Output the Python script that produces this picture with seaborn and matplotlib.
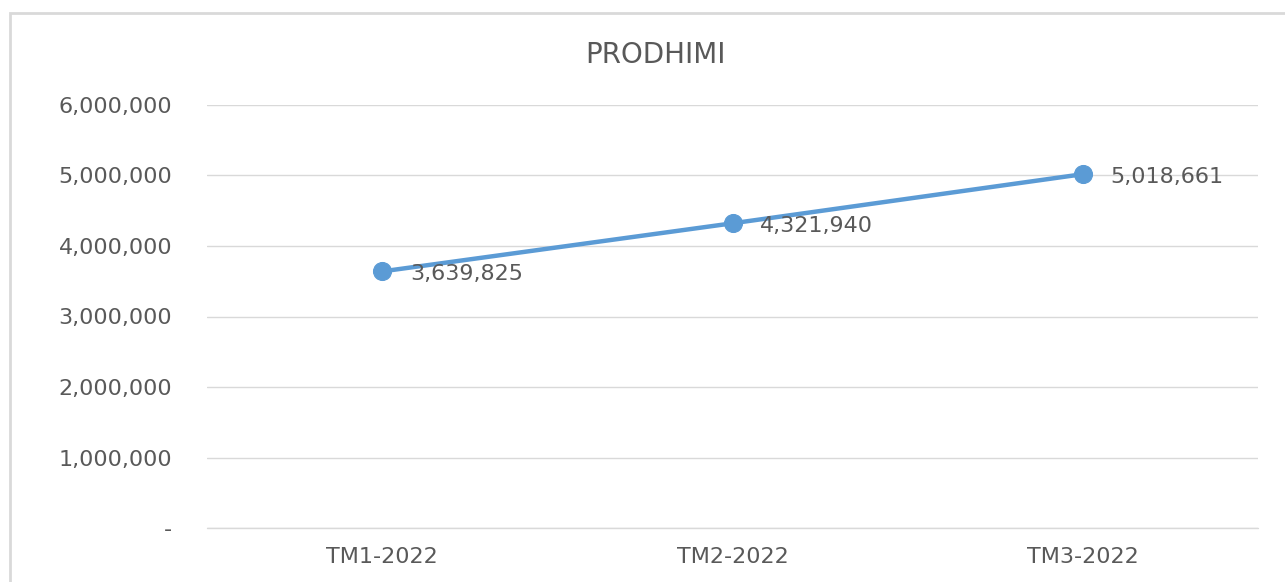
import matplotlib
matplotlib.use("Agg")
import matplotlib.pyplot as plt
import matplotlib.ticker as mticker
from matplotlib.patches import Rectangle
import pandas as pd
import seaborn as sns

# data
quarters = ["TM1-2022", "TM2-2022", "TM3-2022"]
production = [3639825, 4321940, 5018661]
title = "PRODHIMI"

df = pd.DataFrame({"quarter": quarters, "production": production})

sns.set_style("white")
plt.rcParams["font.family"] = ["DejaVu Sans"]

text_color = "#595959"
line_color = "#5B9BD5"
grid_color = "#D9D9D9"

fig = plt.figure(figsize=(12.85, 5.82), dpi=100)
ax = fig.add_axes([207 / 1285, 1 - 528 / 582, 1051 / 1285, 423 / 582])

sns.lineplot(data=df, x="quarter", y="production", ax=ax, sort=False,
             color=line_color, linewidth=3.2, marker="o", markersize=13,
             markeredgecolor=line_color, zorder=3)

for i, v in enumerate(production):
    ax.annotate(f"{v:,}", (i, v), xytext=(20, -2), textcoords="offset points",
                ha="left", va="center", fontsize=16, color=text_color)

ax.set_xlim(-0.5, 2.5)
ax.set_ylim(0, 6000000)
ax.yaxis.set_major_locator(mticker.MultipleLocator(1000000))
ax.yaxis.set_major_formatter(mticker.FuncFormatter(lambda v, p: f"{v:,.0f}" if v else "-"))
ax.grid(axis="y", color=grid_color, linewidth=1)
ax.axhline(0, color=grid_color, linewidth=1, clip_on=False, zorder=1)
ax.set_axisbelow(True)
for s in ax.spines.values():
    s.set_visible(False)
ax.tick_params(axis="y", length=0, pad=25, labelsize=16, labelcolor=text_color)
ax.tick_params(axis="x", length=0, pad=14, labelsize=16, labelcolor=text_color)
ax.set_xlabel("")
ax.set_ylabel("")

fig.text(655 / 1285, 1 - 55 / 582, title, ha="center", va="center",
         fontsize=20, color=text_color)

# chart frame
fig.patches.append(Rectangle((10 / 1285, -0.1), 1.2, 1.1 - 13 / 582,
                             transform=fig.transFigure, fill=False,
                             edgecolor=grid_color, linewidth=2))

fig.savefig("out.png", dpi=100)
